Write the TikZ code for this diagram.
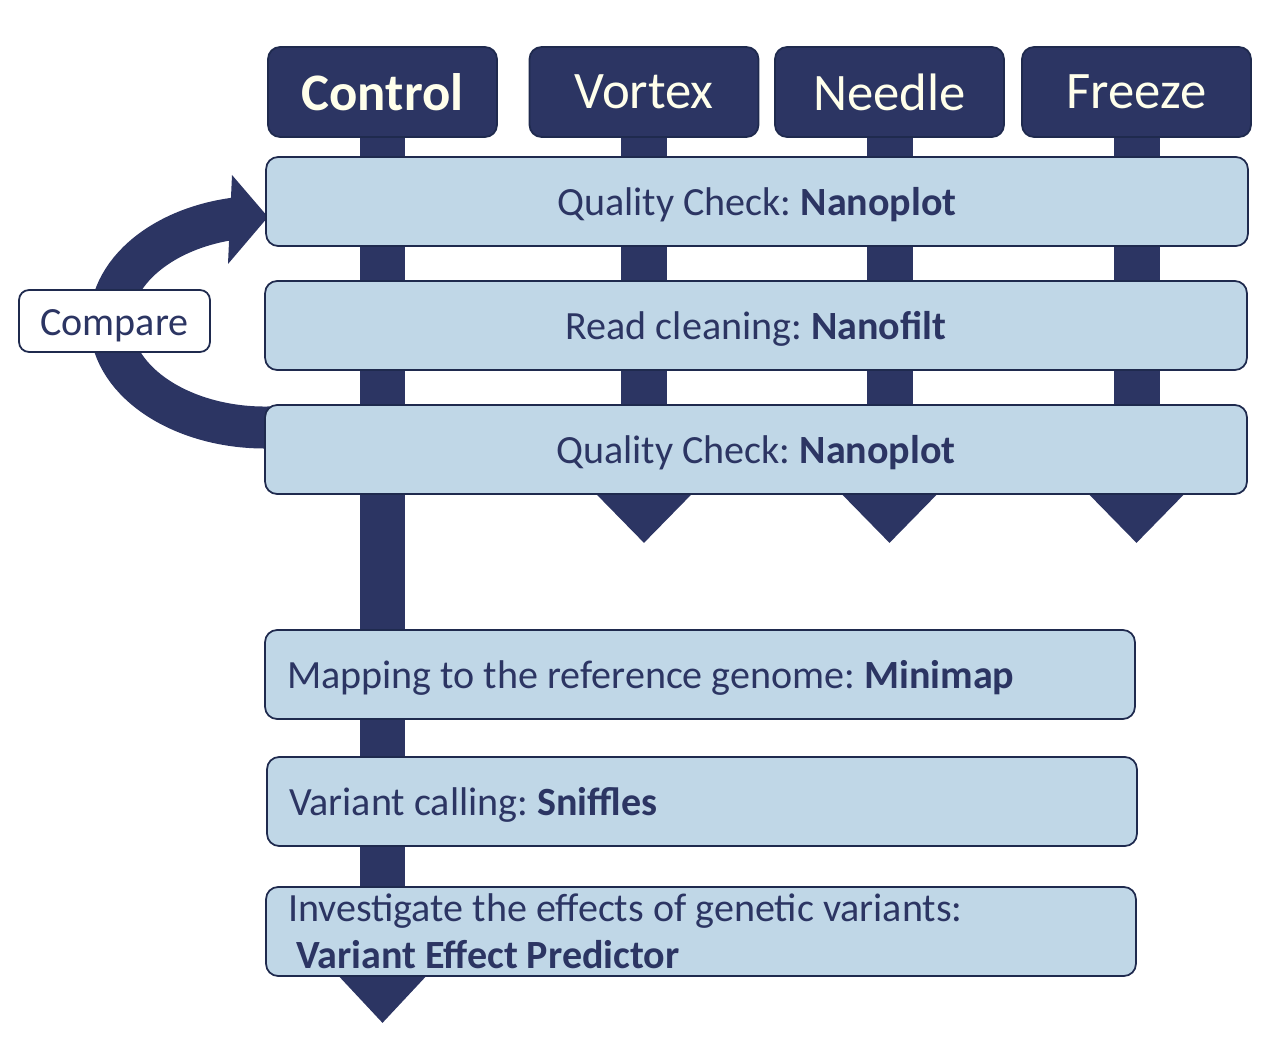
\documentclass[tikz,border=0pt]{standalone}
\usepackage{fontspec}
\setmainfont{Carlito}
\usetikzlibrary{calc,backgrounds}
\definecolor{navy}{HTML}{2C3563}
\definecolor{edge}{HTML}{1F2A4E}
\definecolor{pale}{HTML}{C0D7E7}
\definecolor{cream}{HTML}{FFFFEB}
\frenchspacing
\begin{document}
\frenchspacing
\begin{tikzpicture}[x=0.02cm,y=-0.02cm,
  header/.style={draw=edge, line width=1pt, fill=navy, rounded corners=0.24cm,
    minimum width=4.58cm, minimum height=1.8cm, text=cream, inner sep=0pt,
    font=\fontsize{30}{35}\selectfont},
  stage/.style={draw=edge, line width=1pt, fill=pale, rounded corners=0.24cm,
    minimum height=1.78cm, text=navy, font=\fontsize{22.8}{26.7}\selectfont},
  oneline/.style={text height=0.72cm, text depth=0.15cm},
  wide/.style={stage, oneline, minimum width=19.64cm},
  leftstage/.style={stage, text width=16.52cm, inner xsep=0.44cm, align=flush left},
  comparebox/.style={draw=edge, line width=1pt, fill=white, rounded corners=0.2cm,
    minimum width=3.82cm, minimum height=1.24cm, text=navy, inner sep=0pt,
    oneline, font=\fontsize{22.8}{26.7}\selectfont},
  shaft/.style={draw=navy, line width=0.92cm},
  band/.style={draw=navy, line width=0.84cm}]

\useasboundingbox (0,0) rectangle (1276,1040);

% headers
\node[header, font={\fontsize{30}{35}\selectfont\bfseries}] (ctrl) at (382.5,92) {Control};
\node[header] (vortex) at (644,92) {Vortex};
\node[header] (needle) at (889.5,92) {Needle};
\node[header] (freeze) at (1136.5,92) {Freeze};

% stages
\node[wide] (qc1) at (757,201.5) {Quality Check: \textbf{Nanoplot}};
\node[wide] (clean) at (756,325.5) {Read cleaning: \textbf{Nanofilt}};
\node[wide] (qc2) at (756,449.5) {Quality Check: \textbf{Nanoplot}};
\node[leftstage, oneline] (map) at (700,674.5) {Mapping to the reference genome: \textbf{Minimap}};
\node[leftstage, oneline] (var) at (702,801.5) {Variant calling: \textbf{Sniffles}};
\node[leftstage] (inv) at (701,931.5) {Investigate the effects of genetic variants:\\\hspace*{0.16cm}\textbf{Variant Effect Predictor}};

\node[comparebox] (cmp) at (114.5,321) {Compare};

\begin{scope}[on background layer]
  % control column
  \draw[shaft] (ctrl.south) -- (ctrl.south |- inv.south);
  \coordinate (cend) at (ctrl.south |- inv.south);
  \fill[navy] ($(cend)+(-43,0)$) -- ($(cend)+(43,0)$) -- ($(cend)+(0,46)$) -- cycle;
  % other columns
  \foreach \n in {vortex,needle,freeze}{
    \draw[shaft] (\n.south) -- (\n.south |- qc2.south);
    \coordinate (e\n) at (\n.south |- qc2.south);
    \fill[navy] ($(e\n)+(-47,0)$) -- ($(e\n)+(47,0)$) -- ($(e\n)+(0,48)$) -- cycle;
  }
  % compare loop
  \draw[band] (291.8,425.9) arc[start angle=80, end angle=259, x radius=154.5, y radius=105.5];
  \fill[navy] (232,175) -- (268,217) -- (228,264) -- cycle;
\end{scope}
\end{tikzpicture}
\end{document}
